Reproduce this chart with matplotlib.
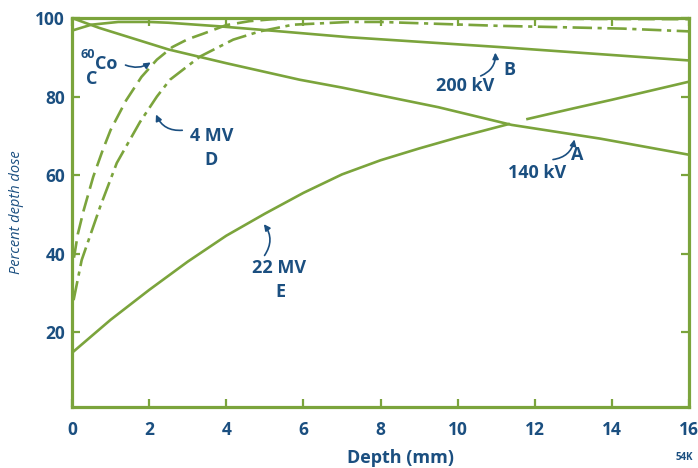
import matplotlib.pyplot as plt

plt.rcParams['font.family'] = ['Open Sans', 'DejaVu Sans']
plt.rcParams['lines.scale_dashes'] = False

green = '#7ba43c'
blue = '#1b4f80'

# A: 140 kV
depth_a = [0, 0.7, 2.5, 4.0, 5.9, 7.0, 9.5, 11.4, 13.7, 16]
dose_a = [100, 97.5, 92.0, 88.5, 84.3, 82.3, 77.3, 72.8, 69.3, 65.2]
# B: 200 kV
depth_b = [0, 0.5, 1.2, 2.0, 2.5, 3.8, 5.4, 7.2, 11.1, 16]
dose_b = [96.8, 98.3, 99.0, 99.0, 98.8, 97.9, 96.6, 95.1, 92.6, 89.2]
# C: 60Co
depth_c = [0.05, 0.15, 0.3, 0.55, 0.8, 1.0, 1.4, 1.8, 2.2, 2.6, 3.0, 3.4, 4.0, 4.6, 5.2, 6.0, 8.0, 12.0, 16.0]
dose_c = [39, 45, 51, 59.6, 66.5, 71.5, 79, 85, 89.4, 92.6, 94.6, 96.0, 98.2, 99.2, 99.7, 99.9, 99.9, 99.8, 99.7]
# D: 4 MV
depth_d = [0.04, 0.25, 0.73, 1.16, 1.76, 2.2, 2.54, 3.32, 4.18, 4.87, 5.73, 7.2, 8.0, 11.1, 12.5, 14.3, 16]
dose_d = [28.2, 38.4, 52.0, 63.1, 73.5, 80.0, 84.3, 90.2, 94.5, 96.6, 98.3, 99.0, 99.0, 98.0, 97.7, 97.3, 96.6]
# E: 22 MV (drawn in two pieces, broken where it crosses A)
depth_e1 = [0, 1, 2, 3, 4, 5, 6, 7, 8, 9, 10, 11.32]
dose_e1 = [14.8, 23.2, 30.8, 38.0, 44.6, 50.2, 55.5, 60.2, 63.8, 66.8, 69.6, 73.0]
depth_e2 = [11.81, 13, 14, 16]
dose_e2 = [74.3, 77.0, 79.2, 83.8]

xticks = [0, 2, 4, 6, 8, 10, 12, 14, 16]
yticks = [20, 40, 60, 80, 100]

fig = plt.figure(figsize=(6.98, 4.68), dpi=100)
ax = fig.add_axes([0.1032, 0.1303, 0.884, 0.8312])

lw = 1.9
ax.plot(depth_a, dose_a, color=green, lw=lw)
ax.plot(depth_b, dose_b, color=green, lw=lw)
ax.plot(depth_c, dose_c, color=green, lw=lw, dashes=(12, 5))
ax.plot(depth_d, dose_d, color=green, lw=lw, dashes=(14, 4, 3, 4))
ax.plot(depth_e1, dose_e1, color=green, lw=lw)
ax.plot(depth_e2, dose_e2, color=green, lw=lw)

ax.set_xlim(0, 16)
ax.set_ylim(1, 100)
ax.set_xticks(xticks)
ax.set_yticks(yticks)
for s in ax.spines.values():
    s.set_color(green)
    s.set_linewidth(2.3)
ax.tick_params(direction='in', length=5.5, width=1.6, color=green,
               top=True, right=True, labelsize=12.5, labelcolor=blue)
ax.tick_params(axis='x', pad=10)
ax.tick_params(axis='y', pad=5)
for lab in ax.get_xticklabels() + ax.get_yticklabels():
    lab.set_fontweight('bold')

ax.set_xlabel('Depth (mm)', fontsize=13, fontweight='bold', color=blue, va='center')
ax.xaxis.set_label_coords(0.533, -0.131)
ax.set_ylabel('Percent depth dose', fontsize=10.5, style='italic', color=blue, va='center')
ax.yaxis.set_label_coords(-0.09, 0.5)

tk = dict(color=blue, fontsize=13, fontweight='bold', ha='center', va='center')
ax.text(0.21, 90.6, '60', color=blue, fontsize=9, fontweight='bold', ha='left', va='center')
ax.text(0.6, 88.4, 'Co', color=blue, fontsize=13, fontweight='bold', ha='left', va='center')
ax.text(0.52, 84.6, 'C', **tk)
ax.text(3.63, 70.0, '4 MV', **tk)
ax.text(3.6, 63.9, 'D', **tk)
ax.text(5.37, 36.4, '22 MV', **tk)
ax.text(5.4, 30.3, 'E', **tk)
ax.text(10.2, 82.8, '200 kV', **tk)
ax.text(11.33, 86.8, 'B', **tk)
ax.text(12.06, 60.6, '140 kV', **tk)
ax.text(13.1, 65.2, 'A', **tk)

arrow = dict(arrowstyle='-|>', color=blue, lw=1.2, mutation_scale=9)
ax.annotate('', xy=(2.1, 89.1), xytext=(1.32, 88.3),
            arrowprops=dict(connectionstyle='arc3,rad=0.3', **arrow))
ax.annotate('', xy=(2.15, 76.1), xytext=(2.93, 71.5),
            arrowprops=dict(connectionstyle='arc3,rad=-0.4', **arrow))
ax.annotate('', xy=(4.93, 48.1), xytext=(4.95, 39.0),
            arrowprops=dict(connectionstyle='arc3,rad=0.4', **arrow))
ax.annotate('', xy=(10.97, 91.9), xytext=(10.53, 85.0),
            arrowprops=dict(connectionstyle='arc3,rad=0.4', **arrow))
ax.annotate('', xy=(13.04, 69.8), xytext=(12.4, 63.9),
            arrowprops=dict(connectionstyle='arc3,rad=0.4', **arrow))

fig.text(684 / 698, 1 - 458 / 468, '54K', color=blue, fontsize=7, fontweight='bold',
         ha='center', va='center')

fig.savefig('out.png', dpi=100)
